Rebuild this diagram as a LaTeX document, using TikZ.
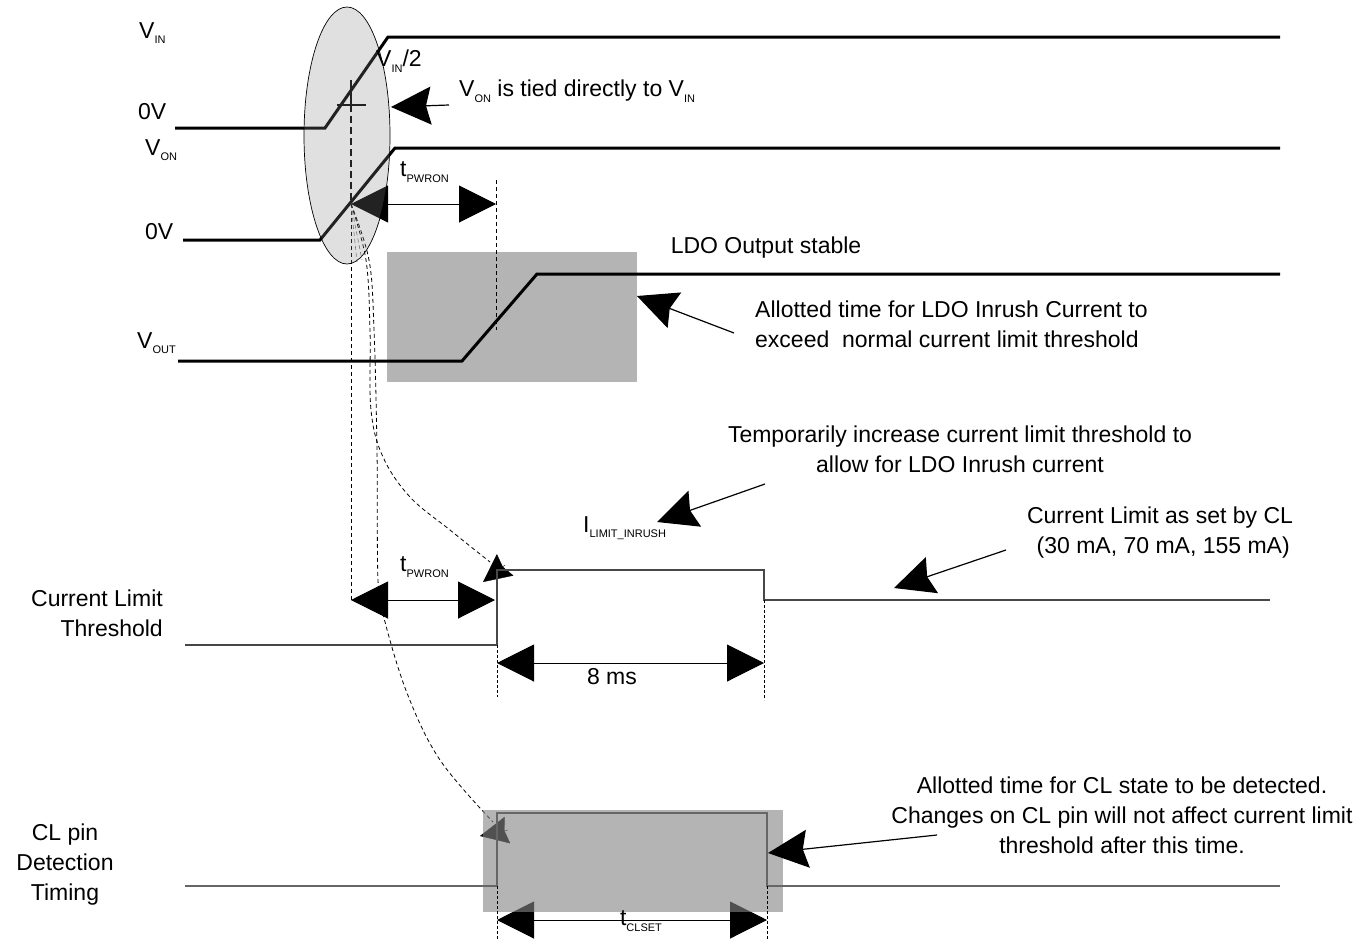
\documentclass[tikz,border=0pt]{standalone}
\usepackage{fontspec}
\setmainfont{Liberation Sans}
\usetikzlibrary{arrows.meta}
\newcommand\sbx[1]{\raisebox{-0.45ex}{\fontsize{11}{11}\selectfont #1}}
\definecolor{boxgray}{RGB}{180,180,180}
\definecolor{ellgray}{RGB}{135,135,135}
\definecolor{clgray}{RGB}{133,133,133}
\tikzset{
  lbl/.style={inner sep=0pt, font=\fontsize{23}{30}\selectfont},
  wave/.style={line width=3pt},
  thinwave/.style={line width=1.4pt, draw=black!72},
  dim/.style={line width=1pt, {Triangle[length=37pt,width=37pt]}-{Triangle[length=37pt,width=37pt]}},
  ann/.style={line width=1.2pt, -{Stealth[length=40pt,width=38pt,inset=5pt]}},
  smallhead/.style={line width=0.4pt, -{Stealth[length=28pt,width=27pt,inset=3pt]}},
  guide/.style={line width=0.8pt, dash pattern=on 4pt off 3pt},
  fine/.style={line width=0.8pt, dash pattern=on 3pt off 2pt},
}
\begin{document}
\begin{tikzpicture}[x=1pt,y=-1pt]
\useasboundingbox (0,0) rectangle (1365,945);

% ---------- LDO box ----------
\fill[boxgray] (387,252) rectangle (637,382);

% ---------- waveforms ----------
\coordinate (vinA) at (175,128); \coordinate (vinB) at (325,128);
\coordinate (vinC) at (388,37);  \coordinate (vinD) at (1280,37);
\draw[wave] (vinA) -- (vinB) -- (vinC) -- (vinD);

\coordinate (vonA) at (183,240); \coordinate (vonB) at (320,240);
\coordinate (vonC) at (395,148); \coordinate (vonD) at (1280,148);
\draw[wave] (vonA) -- (vonB) -- (vonC) -- (vonD);

\coordinate (voA) at (178,361); \coordinate (voB) at (462,361);
\coordinate (voC) at (537,274); \coordinate (voD) at (1280,274);
\draw[wave] (voA) -- (voB) -- (voC) -- (voD);

% VIN/2 marker
\coordinate (mkT) at (351,80); \coordinate (mkC) at (351,105);
\coordinate (mkL) at (337,105); \coordinate (mkR) at (366,105);
\draw[line width=2pt] (mkT) -- (mkC);
\draw[line width=2pt] (mkL) -- (mkR);
\coordinate (fan) at (351,204);
\draw[line width=1.6pt, dash pattern=on 7pt off 4pt] (mkC) -- (fan);

% t_PWRON top
\coordinate (tpR) at (496,204);
\draw[dim] (fan) -- (tpR);
\coordinate (g1T) at (496,180); \coordinate (g1B) at (496,330);
\draw[guide] (g1T) -- (g1B);

% guide lines from fan point
\coordinate (vdB) at (351,600);
\draw[guide] (fan) -- (vdB);
\draw[guide, draw=black!55, line width=0.6pt] (fan) -- (357,262);
\draw[guide, draw=black!55, line width=0.6pt] (fan) -- (362,260);
\draw[guide] plot[smooth, tension=0.6] coordinates {(351,204) (366,260) (370,330) (371,410) (383,457) (410,497) (450,530) (490,562)};
\draw[guide] plot[smooth, tension=0.6] coordinates {(351,204) (369,260) (374,330) (377,450) (378,580) (384,618) (407,693) (440,760) (493,822)};
\coordinate (h1b) at (505,565); \coordinate (h1t) at (483,582);
\draw[smallhead] (h1b) -- (h1t);
\coordinate (h2b) at (508,830); \coordinate (h2t) at (480,836);
\draw[smallhead] (h2b) -- (h2t);

% ---------- ellipse ----------
\draw[line width=0.7pt, fill=ellgray, fill opacity=0.26] (347,135.5) ellipse [x radius=43, y radius=128.5];

% ---------- current limit threshold ----------
\coordinate (c1) at (185,645); \coordinate (c2) at (497,645);
\coordinate (c3) at (497,570); \coordinate (c4) at (764,570);
\coordinate (c5) at (764,600); \coordinate (c6) at (1270,600);
\draw[thinwave] (c1) -- (c2) -- (c3) -- (c4) -- (c5) -- (c6);
\coordinate (tp2L) at (351,600); \coordinate (tp2R) at (495,600);
\draw[dim] (tp2L) -- (tp2R);
\draw[fine] (497,645) -- (497,697);
\draw[fine] (764,600) -- (764,700);
\coordinate (m8L) at (497,663); \coordinate (m8R) at (764,663);
\draw[dim] (m8L) -- (m8R);

% ---------- CL pin detection ----------
\coordinate (tcL) at (497,920); \coordinate (tcR) at (767,920);
\draw[dim] (tcL) -- (tcR);
\fill[clgray, fill opacity=0.61] (483,810) rectangle (783,912);
\draw[thinwave, line width=1.2pt, draw=black!60] (185,886) -- (497,886) -- (497,813) -- (767,813) -- (767,886) -- (1280,886);
\draw[fine] (497,886) -- (497,940);
\draw[fine] (767,886) -- (767,940);

% ---------- annotation arrows ----------
\coordinate (a1t) at (449,105); \coordinate (a1h) at (391,107);
\draw[ann] (a1t) -- (a1h);
\coordinate (a2t) at (734,333); \coordinate (a2h) at (637,296);
\draw[ann] (a2t) -- (a2h);
\coordinate (a3t) at (765,484); \coordinate (a3h) at (657,522);
\draw[ann] (a3t) -- (a3h);
\coordinate (a4t) at (1006,550); \coordinate (a4h) at (894,588);
\draw[ann] (a4t) -- (a4h);
\coordinate (a5t) at (937,835); \coordinate (a5h) at (768,853);
\draw[ann] (a5t) -- (a5h);

% ---------- labels ----------
\node[lbl, anchor=west] (vin) at (139,33) {V\sbx{IN}};
\node[lbl, anchor=west] (zv1) at (138,112) {0V};
\node[lbl, anchor=west] (von) at (145,150) {V\sbx{ON}};
\node[lbl, anchor=west] (zv2) at (145,232) {0V};
\node[lbl, anchor=west] (vout) at (137,343) {V\sbx{OUT}};
\node[lbl, anchor=west] (vhalf) at (376,61) {V\sbx{IN}/2};
\node[lbl, anchor=west] (tied) at (459,91) {V\sbx{ON} is tied directly to V\sbx{IN}};
\node[lbl, anchor=west] (tp1) at (400,172) {t\sbx{PWRON}};
\node[lbl] (ldo) at (766,248) {LDO Output stable};
\node[lbl, anchor=west, align=left] (allot) at (755,324) {Allotted time for LDO Inrush Current to\\exceed\ \ normal current limit threshold};
\node[lbl, align=center] (temp) at (960,449) {Temporarily increase current limit threshold to\\allow for LDO Inrush current};
\node[lbl, anchor=west] (ilim) at (583,528) {I\sbx{LIMIT\_INRUSH}};
\node[lbl, align=center] (clset) at (1160,533) {Current Limit as set by CL\\\ (30 mA, 70 mA, 155 mA)};
\node[lbl, anchor=west] (tp2) at (400,567) {t\sbx{PWRON}};
\node[lbl, align=right, anchor=east] (clt) at (163,613) {Current Limit\\Threshold};
\node[lbl] (ms) at (612,677) {8 ms};
\node[lbl, align=center] (cltxt) at (1122,815) {Allotted time for CL state to be detected.\\Changes on CL pin will not affect current limit\\threshold after this time.};
\node[lbl, align=center] (clpin) at (65,865) {CL pin\\Detection\\Timing};
\node[lbl] (tcl) at (641,921) {t\sbx{CLSET}};
\end{tikzpicture}
\end{document}
